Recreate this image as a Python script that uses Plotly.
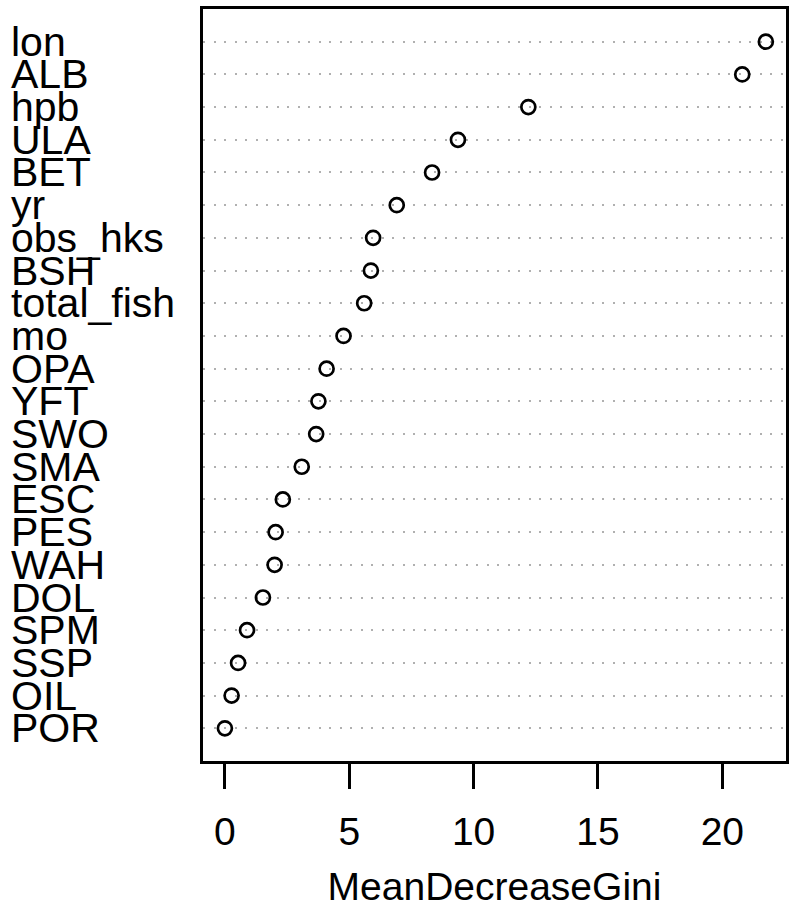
import plotly.graph_objects as go

# Variable importance (random forest), listed from most to least important
variables = ["lon", "ALB", "hpb", "ULA", "BET", "yr", "obs_hks", "BSH",
             "total_fish", "mo", "OPA", "YFT", "SWO", "SMA", "ESC", "PES",
             "WAH", "DOL", "SPM", "SSP", "OIL", "POR"]
gini = [21.75, 20.8, 12.2, 9.37, 8.33, 6.91, 5.96, 5.87,
        5.6, 4.77, 4.09, 3.76, 3.67, 3.09, 2.33, 2.04,
        2.0, 1.53, 0.89, 0.53, 0.27, 0.0]
x_ticks = [0, 5, 10, 15, 20]
x_title = "MeanDecreaseGini"

n = len(variables)
# dotchart layout: bottom row is 1, top row is n
rows = [n - i for i in range(n)]

FONT = "Liberation Sans, Arial, sans-serif"

fig = go.Figure()
fig.add_trace(go.Scatter(
    x=gini, y=rows, mode="markers",
    marker=dict(symbol="circle-open", size=14, color="black",
                line=dict(color="black", width=2.7)),
    hoverinfo="skip", showlegend=False,
))

# Row labels, left-justified in the left margin
for name, r in zip(variables, rows):
    fig.add_annotation(
        x=-0.333, xref="paper", y=r, yref="y",
        text=name, showarrow=False, xanchor="left", yanchor="middle",
        font=dict(family=FONT, size=41, color="black"),
    )

fig.update_layout(
    width=795, height=916,
    margin=dict(l=203, r=6, t=9, b=155),
    paper_bgcolor="white", plot_bgcolor="white",
    font=dict(family=FONT, color="black"),
)
fig.update_xaxes(
    range=[-0.88, 22.56], tickvals=x_ticks, ticktext=[str(t) for t in x_ticks],
    ticks="outside", ticklen=25, tickwidth=2.5, tickcolor="black",
    tickfont=dict(family=FONT, size=39, color="black"),
    ticklabelstandoff=9,
    showgrid=False, zeroline=False,
    showline=True, linecolor="black", linewidth=2.5, mirror=True,
    title=dict(text=x_title, font=dict(family=FONT, size=39, color="black"),
               standoff=22),
)
fig.update_yaxes(
    range=[0, 23], tickvals=rows, showticklabels=False, ticks="",
    showgrid=True, gridcolor="#b0b0b0", gridwidth=1.6, griddash="2px,8.5px",
    zeroline=False,
    showline=True, linecolor="black", linewidth=2.5, mirror=True,
)

fig.write_html("out.html")
